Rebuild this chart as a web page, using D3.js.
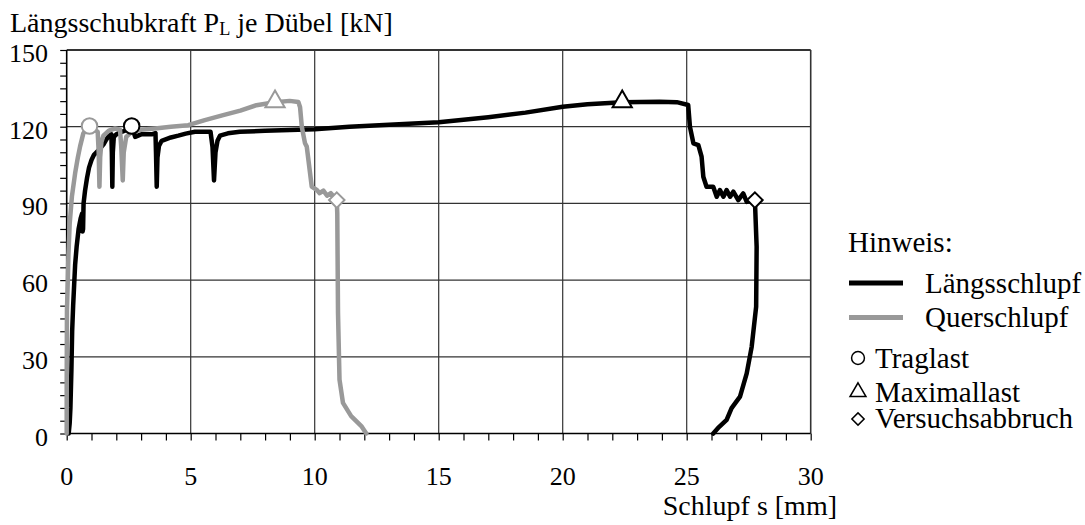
<!DOCTYPE html>
<html>
<head>
<meta charset="utf-8">
<script src="https://cdn.jsdelivr.net/npm/d3@7"></script>
<style>
  html, body { margin: 0; padding: 0; background: #fff; }
</style>
</head>
<body>
<svg id="chart" width="1085" height="525" font-family="'Liberation Serif', 'Times New Roman', Times, 'DejaVu Serif', serif"></svg>
<script>
// ---- data ----
const xTicks = [0, 5, 10, 15, 20, 25, 30];
const yTicks = [0, 30, 60, 90, 120, 150];
const seriesNames = ["Längsschlupf", "Querschlupf"];
const seriesColors = ["#000000", "#999999"];

// Längsschlupf: slip s (mm) and force P_L (kN)
const laengsSlip = [0.08,0.12,0.15,0.19,0.22,0.26,0.30,0.34,0.40,0.48,0.56,0.62,0.64,0.66,0.68,0.74,0.82,0.90,1.00,1.10,1.30,1.48,1.60,1.70,1.80,1.82,1.84,1.86,1.90,2.00,2.22,2.50,2.65,2.76,3.00,3.20,3.43,3.58,3.60,3.63,3.66,3.72,3.83,4.20,4.50,4.80,5.17,5.50,5.80,5.88,5.94,6.00,6.08,6.18,6.50,6.98,8.00,9.00,10.0,11.4,13.0,15.0,17.0,18.5,20.0,21.0,22.4,23.9,24.6,25.06,25.13,25.27,25.47,25.60,25.67,25.80,26.07,26.21,26.34,26.48,26.61,26.75,26.88,27.08,27.28,27.42,27.75,27.76,27.82,27.80,27.62,27.42,27.15,26.81,26.61,26.30,26.07];
const laengsForce = [0,4,10,25,40,50,58,66,73,80,84,86,79,80,90,95,100,104,107,109,111,113,115,116.5,117,110,96.5,110,116,117,118,119,119.5,116,117,117,117,117.5,110,96.5,108,112.5,114.5,115.8,116.5,117.3,118,118,118,112,99,110,114.5,116.5,117.4,118,118.4,118.7,119,120,120.8,121.7,123.7,125.5,127.8,128.8,129.6,129.8,129.6,128.5,120,113.5,112.8,108.3,100.4,96.5,96.5,92.6,95.2,92.6,95.2,92.6,94.6,91.3,93.9,90.6,91.3,88.7,73,49.6,33.9,23.5,14.4,9.9,5.3,2.5,0];

// Querschlupf
const querSlip = [0.00,0.00,0.01,0.05,0.07,0.12,0.21,0.34,0.45,0.54,0.67,0.80,0.92,1.05,1.15,1.25,1.29,1.32,1.35,1.40,1.48,1.70,1.95,2.15,2.20,2.26,2.30,2.40,2.62,3.00,3.56,4.20,4.90,5.57,6.31,7.00,7.65,8.39,8.99,9.34,9.41,9.48,9.61,9.68,9.88,10.08,10.20,10.35,10.50,10.65,10.89,10.91,10.94,11.00,11.14,11.47,11.88,12.08];
const querForce = [0,20,48,62,70,82,92.7,101.8,108,112.3,117.4,119,119.5,119,118.7,118,110,96.5,108,114,116.5,118.5,119.3,118.8,112,99,110,116,118,118.8,119.3,120,120.6,122.6,124.5,126.3,128.4,129.6,130.1,129.7,127.6,120,113.5,112.2,96.6,95.3,94,95,93,94,91.3,86.2,47.1,21.1,12,6.8,2.9,0];

// special points per series [Längs, Quer]
const markerNames = ["Traglast", "Maximallast", "Versuchsabbruch"];
const markerSymbols = ["circle", "triangle", "diamond"];
const traglastSlip = [2.62, 0.92];
const traglastForce = [120.3, 120.3];
const maxlastSlip = [22.4, 8.4];
const maxlastForce = [129.8, 129.8];
const abbruchSlip = [27.75, 10.89];
const abbruchForce = [91.3, 91.3];

const yTitle = ["Längsschubkraft P", "L", " je Dübel [kN]"];
const xTitle = "Schlupf s [mm]";
const legendTitle = "Hinweis:";

// ---- layout ----
const svg = d3.select("#chart");
const L = 66.7, R = 810.7, T = 50, B = 433.5;
const x = d3.scaleLinear().domain([0, 30]).range([L, R]);
const y = d3.scaleLinear().domain([0, 150]).range([B, T]);
const FS = 26, TFS = 28, LFS = 29;

// grid
const grid = svg.append("g");
grid.selectAll("line.v").data(xTicks.filter(d => d > 0)).join("line")
  .attr("x1", d => x(d)).attr("x2", d => x(d)).attr("y1", T).attr("y2", B)
  .attr("stroke", "#333").attr("stroke-width", d => d === 30 ? 1.6 : 1.2);
grid.selectAll("line.h").data(yTicks.filter(d => d > 0)).join("line")
  .attr("x1", L).attr("x2", R).attr("y1", d => y(d)).attr("y2", d => y(d))
  .attr("stroke", "#333").attr("stroke-width", d => d === 150 ? 2 : 1.2);

// axes
const yAxis = d3.axisLeft(y).tickValues(d3.range(0, 151, 5)).tickSize(6.5).tickFormat("");
const gy = svg.append("g").attr("transform", `translate(${L},0)`).call(yAxis);
const xAxis = d3.axisBottom(x).tickValues(d3.range(0, 31, 1)).tickSize(7).tickFormat("");
const gx = svg.append("g").attr("transform", `translate(0,${B})`).call(xAxis);
[gx, gy].forEach(g => {
  g.select(".domain").attr("stroke", "#000").attr("stroke-width", 1.6);
  g.selectAll(".tick line").attr("stroke", "#000").attr("stroke-width", 1.2);
});
gx.select(".domain").attr("d", `M${L},0H${R}`);
gy.select(".domain").attr("d", `M0,${B}V${T}`);

// tick labels
svg.append("g").selectAll("text").data(yTicks).join("text")
  .attr("x", 48).attr("y", d => y(d) + 12)
  .attr("text-anchor", "end").attr("font-size", FS).text(d => d);
svg.append("g").selectAll("text").data(xTicks).join("text")
  .attr("x", d => x(d)).attr("y", 485)
  .attr("text-anchor", "middle").attr("font-size", FS).text(d => d);

// titles
const yt = svg.append("text").attr("x", 10).attr("y", 32).attr("font-size", TFS);
yt.append("tspan").text(yTitle[0]);
yt.append("tspan").attr("font-size", TFS * 0.65).attr("dy", 3).text(yTitle[1]);
yt.append("tspan").attr("dy", -3).text(yTitle[2]);
svg.append("text").attr("x", 837).attr("y", 515).attr("text-anchor", "end")
  .attr("font-size", TFS).text(xTitle);

// lines (gray drawn on top of black)
const line = d3.line().x(d => x(d[0])).y(d => y(d[1]));
const series = [d3.zip(laengsSlip, laengsForce), d3.zip(querSlip, querForce)];
series.forEach((pts, i) => {
  svg.append("path").datum(pts).attr("d", line)
    .attr("fill", "none").attr("stroke", seriesColors[i])
    .attr("stroke-width", 4.5).attr("stroke-linejoin", "round").attr("stroke-linecap", "round");
});

// markers
function symbolPath(kind, size) {
  if (kind === "circle") return d3.symbol(d3.symbolCircle, size)();
  if (kind === "triangle") return d3.symbol(d3.symbolTriangle, size)();
  return d3.symbol(d3.symbolSquare, size)();
}
const markerSets = [
  [traglastSlip, traglastForce, 0, 190],
  [maxlastSlip, maxlastForce, 1, 160],
  [abbruchSlip, abbruchForce, 2, 120]
];
[0, 1].forEach(si => {
  markerSets.forEach(([xs, ys, k, sz]) => {
    svg.append("path").attr("d", symbolPath(markerSymbols[k], sz))
      .attr("transform", `translate(${x(xs[si])},${y(ys[si])})` + (k === 2 ? " rotate(45)" : ""))
      .attr("fill", "#fff").attr("stroke", seriesColors[si]).attr("stroke-width", 2);
  });
});

// legend
const lg = svg.append("g");
lg.append("text").attr("x", 848).attr("y", 252).attr("font-size", LFS).text(legendTitle);
[283, 317.5].forEach((yy, i) => {
  lg.append("line").attr("x1", 849).attr("x2", 903).attr("y1", yy).attr("y2", yy)
    .attr("stroke", seriesColors[i]).attr("stroke-width", 5);
  lg.append("text").attr("x", 925).attr("y", yy + 9.5).attr("font-size", LFS).text(seriesNames[i]);
});
[[358, 368], [392, 402], [419, 428]].forEach(([my, ty], k) => {
  lg.append("path").attr("d", symbolPath(markerSymbols[k], [130, 110, 75][k]))
    .attr("transform", `translate(858,${my})` + (k === 2 ? " rotate(45)" : ""))
    .attr("fill", "#fff").attr("stroke", "#000").attr("stroke-width", 1.5);
  lg.append("text").attr("x", 875).attr("y", ty).attr("font-size", LFS).text(markerNames[k]);
});
</script>
</body>
</html>
